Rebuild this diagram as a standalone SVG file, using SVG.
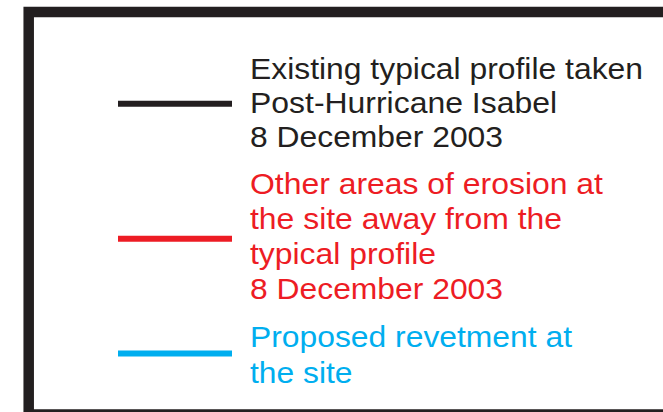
<svg xmlns="http://www.w3.org/2000/svg" width="663" height="412" viewBox="0 0 663 412">
  <style>
    text { font-family: "Liberation Sans", Arial, sans-serif; font-size: 30px; }
    .k { fill: #231f20; }
    .r { fill: #ed1c24; }
    .b { fill: #00aeef; }
    .sw { stroke-width: 6; fill: none; }
  </style>
  <rect x="0" y="0" width="663" height="412" fill="#ffffff"/>
  <g id="frame">
    <rect x="28.7" y="12" width="700" height="402.5" fill="none" stroke="#231f20" stroke-width="10.5"/>
  </g>
  <g id="legend-existing">
    <line class="sw" x1="118" y1="103.7" x2="232" y2="103.7" stroke="#231f20"/>
    <text class="k" x="250" y="78.5" textLength="393" lengthAdjust="spacingAndGlyphs">Existing typical profile taken</text>
    <text class="k" x="250" y="113" textLength="307" lengthAdjust="spacingAndGlyphs">Post-Hurricane Isabel</text>
    <text class="k" x="250" y="147" textLength="253" lengthAdjust="spacingAndGlyphs">8 December 2003</text>
  </g>
  <g id="legend-erosion">
    <line class="sw" x1="118" y1="238.7" x2="232" y2="238.7" stroke="#ed1c24"/>
    <text class="r" x="250" y="193.5" textLength="353" lengthAdjust="spacingAndGlyphs">Other areas of erosion at</text>
    <text class="r" x="250" y="228.5" textLength="312" lengthAdjust="spacingAndGlyphs">the site away from the</text>
    <text class="r" x="250" y="263.5" textLength="186" lengthAdjust="spacingAndGlyphs">typical profile</text>
    <text class="r" x="250" y="298.5" textLength="253" lengthAdjust="spacingAndGlyphs">8 December 2003</text>
  </g>
  <g id="legend-revetment">
    <line class="sw" x1="118" y1="353.4" x2="232" y2="353.4" stroke="#00aeef"/>
    <text class="b" x="250" y="346.5" textLength="322" lengthAdjust="spacingAndGlyphs">Proposed revetment at</text>
    <text class="b" x="250" y="382.5" textLength="102.5" lengthAdjust="spacingAndGlyphs">the site</text>
  </g>
</svg>
